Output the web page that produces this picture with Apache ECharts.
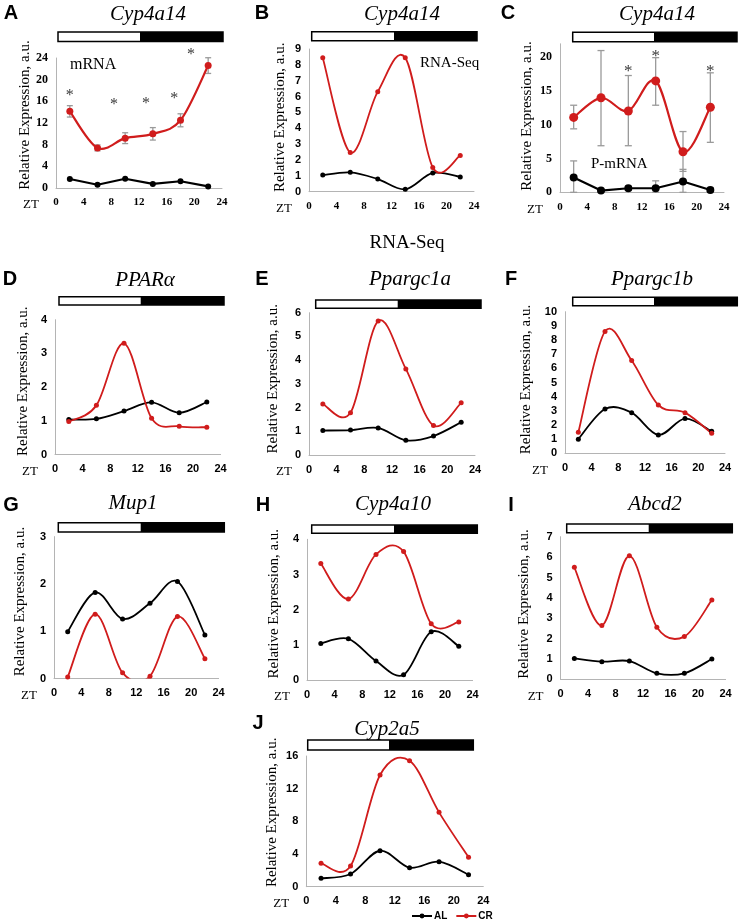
<!DOCTYPE html>
<html><head><meta charset="utf-8">
<script src="https://cdn.jsdelivr.net/npm/echarts@6/dist/echarts.min.js"></script>
<style>html,body{margin:0;padding:0;background:#fff}#c{width:740px;height:921px}</style>
</head><body><div id="c"></div><script>
// ---------- data ----------
const ZT = [2, 6, 10, 14, 18, 22];
// A: Cyp4a14 mRNA
const A_AL = [1.66, 0.6, 1.7, 0.75, 1.25, 0.3];
const A_CR = [14.15, 7.4, 9.2, 10.0, 12.5, 22.6];
const A_CR_ERR = [1.05, 0.55, 1.0, 1.15, 1.2, 1.45];
const A_STAR_X = [2, 8.4, 13, 17.1, 19.5];
const A_STAR_Y = [18, 16.3, 16.4, 17.4, 25.5];
// B: Cyp4a14 RNA-Seq
const B_AL = [1.05, 1.22, 0.8, 0.15, 1.18, 0.93];
const B_CR = [8.45, 2.48, 6.31, 8.45, 1.53, 2.29];
// C: Cyp4a14 P-mRNA
const C_AL = [2.2, 0.25, 0.6, 0.6, 1.6, 0.35];
const C_CR = [11.1, 14.0, 12.05, 16.5, 6.0, 12.6];
const C_CR_LO = [9.4, 6.9, 6.9, 12.9, 3.1, 7.4];
const C_CR_HI = [12.9, 21.0, 17.3, 19.95, 9.0, 17.7];
const C_AL_LO = [0, 0.05, 0.3, 0, 0, 0.1];
const C_AL_HI = [4.65, 0.45, 0.9, 1.7, 3.4, 0.7];
const C_STAR_X = [10, 14, 22];
const C_STAR_Y = [18.7, 20.8, 18.7];
// D-J: RNA-Seq
const D_AL = [1.04, 1.06, 1.29, 1.55, 1.24, 1.56];
const D_CR = [0.98, 1.46, 3.3, 1.08, 0.84, 0.81];
const E_AL = [1.03, 1.05, 1.14, 0.62, 0.8, 1.38];
const E_CR = [2.15, 1.78, 5.65, 3.63, 1.24, 2.2];
const F_AL = [1.0, 3.13, 2.87, 1.3, 2.45, 1.55];
const F_CR = [1.48, 8.6, 6.55, 3.41, 2.87, 1.41];
const G_AL = [0.99, 1.82, 1.26, 1.59, 2.05, 0.92];
const G_CR = [0.03, 1.36, 0.12, 0.05, 1.31, 0.42];
const H_AL = [1.04, 1.17, 0.54, 0.15, 1.37, 0.96];
const H_CR = [3.31, 2.3, 3.57, 3.65, 1.6, 1.65];
const I_AL = [1.03, 0.87, 0.9, 0.3, 0.3, 1.0];
const I_CR = [5.5, 2.65, 6.06, 2.56, 2.1, 3.9];
const J_AL = [1.02, 1.55, 4.4, 2.33, 3.06, 1.47];
const J_CR = [2.86, 2.53, 13.67, 15.43, 9.1, 3.6];
const SERIES_NAMES = ['AL', 'CR'];
const Y_NAME = 'Relative Expression, a.u.';

// ---------- layout ----------
const SERIF = 'Liberation Serif, Times New Roman, serif';
const SANS = 'Liberation Sans, Arial, sans-serif';
const RED = '#d01c1c';
const panels = [
  {L:'A', t:'Cyp4a14', al:A_AL, cr:A_CR, ymax:24, yint:4, g:[56,58,166,130], yf:'serif', xf:'serif', gap:17, ny:8, straightAL:true, bar:[58,32,223,140,9.5], tp:[148,14], lp:[11,13], sym:[6,7], lw:2.2},
  {L:'B', t:'Cyp4a14', al:B_AL, cr:B_CR, ymax:9, yint:1, g:[309,49,165,142.7], yf:'sans', xf:'serif', gap:21, ny:3, bar:[311.7,31.7,477,394,9], tp:[402,14], lp:[262,13], sym:[5,5], lw:1.8},
  {L:'C', t:'Cyp4a14', al:C_AL, cr:C_CR, ymax:22, yint:5, g:[560,43.8,164,148.5], yf:'serif', xf:'serif', gap:25, ny:2, straightAL:true, bar:[572.7,32.3,737,654,9.4], tp:[657,14], lp:[508,13], sym:[8,9], lw:2.2},
  {L:'D', t:'PPARα', al:D_AL, cr:D_CR, ymax:4, yint:1, g:[55,319.7,165.6,134.9], yf:'sans', xf:'sans', gap:24, ny:6, bar:[59,296.7,224,140.7,8.3], tp:[145,280], lp:[10,279], sym:[5,5], lw:1.8},
  {L:'E', t:'Ppargc1a', al:E_AL, cr:E_CR, ymax:6, yint:1, g:[309,312.7,166,142.3], yf:'sans', xf:'sans', gap:28, ny:5, bar:[315.7,300,481,397.7,8.3], tp:[410,279], lp:[262,279], sym:[5,5], lw:1.8},
  {L:'F', t:'Ppargc1b', al:F_AL, cr:F_CR, ymax:10, yint:1, g:[565,311.7,160,141.6], yf:'sans', xf:'sans', gap:31, ny:3, bar:[572.7,297.3,737.3,654,8.4], tp:[652,279], lp:[511,279], sym:[5,5], lw:1.8},
  {L:'G', t:'Mup1', al:G_AL, cr:G_CR, ymax:3, yint:1, g:[54,536.6,164.6,141.9], yf:'sans', xf:'sans', gap:26, ny:6, bar:[58.3,522.7,224.3,140.7,9.3], tp:[133,503], lp:[11,505], sym:[5,5], lw:1.8},
  {L:'H', t:'Cyp4a10', al:H_AL, cr:H_CR, ymax:4, yint:1, g:[307,539.3,165.6,140.7], yf:'sans', xf:'sans', gap:25, ny:6, bar:[311.7,525,477.3,394,8.3], tp:[393,504], lp:[263,505], sym:[5,5], lw:1.8},
  {L:'I', t:'Abcd2', al:I_AL, cr:I_CR, ymax:7, yint:1, g:[560.6,536.7,165,142.7], yf:'sans', xf:'sans', gap:29, ny:4, bar:[566.7,524,732.3,648.7,8.7], tp:[655,504], lp:[511,505], sym:[5,5], lw:1.8},
  {L:'J', t:'Cyp2a5', al:J_AL, cr:J_CR, ymax:16, yint:4, g:[306.3,756,177,130.7], yf:'sans', xf:'sans', gap:27, ny:9, bar:[307.7,740,473.3,389,10], tp:[387,729], lp:[258,723], sym:[5,5], lw:1.8}
];

const grid = [], xAxis = [], yAxis = [], series = [], graphic = [];
const axisColor = '#b4b4b4';
function fontOf(k){ return k === 'serif' ? SERIF : SANS; }

// Excel-style smoothed curve (Catmull-Rom Bezier) drawn through the axes' scales
function curveSeries(idx, arr, color, width, z, straight) {
  const pts = ZT.map((t, k) => [t, arr[k]]);
  const k6 = straight ? 0 : 1 / 6;
  return {
    type: 'custom', xAxisIndex: idx, yAxisIndex: idx, silent: true, clip: true, z: z,
    data: pts, encode: {x: 0, y: 1},
    renderItem: function (params, api) {
      const i = params.dataIndex;
      if (i >= pts.length - 1) return {type: 'group', children: []};
      const P = k => api.coord(pts[Math.max(0, Math.min(pts.length - 1, k))]);
      const p0 = P(i - 1), p1 = P(i), p2 = P(i + 1), p3 = P(i + 2);
      const c1 = [p1[0] + (p2[0] - p0[0]) * k6, p1[1] + (p2[1] - p0[1]) * k6];
      const c2 = [p2[0] - (p3[0] - p1[0]) * k6, p2[1] - (p3[1] - p1[1]) * k6];
      return {type: 'bezierCurve',
        shape: {x1: p1[0], y1: p1[1], x2: p2[0], y2: p2[1], cpx1: c1[0], cpy1: c1[1], cpx2: c2[0], cpy2: c2[1]},
        style: {stroke: color, lineWidth: width, fill: null, lineCap: 'round'}};
    }
  };
}

panels.forEach((p, i) => {
  const [gl, gt, gw, gh] = p.g;
  grid.push({left: gl, top: gt, width: gw, height: gh});
  xAxis.push({
    gridIndex: i, type: 'value', min: 0, max: 24, interval: 4,
    axisLine: {show: true, lineStyle: {color: axisColor, width: 1}},
    axisTick: {show: false}, splitLine: {show: false},
    axisLabel: {fontFamily: fontOf(p.xf), fontWeight: 'bold', fontSize: 11, color: '#000', margin: 9}
  });
  const yint = p.yint;
  yAxis.push({
    gridIndex: i, type: 'value', min: 0, max: p.ymax, interval: yint,
    axisLine: {show: true, lineStyle: {color: axisColor, width: 1}},
    axisTick: {show: false}, splitLine: {show: false},
    axisLabel: {fontFamily: fontOf(p.yf), fontWeight: 'bold', fontSize: p.yf === 'serif' ? 12 : 11, color: '#000', margin: 8,
      formatter: v => (Math.abs(v / yint - Math.round(v / yint)) < 1e-6 ? String(v) : '')},
    name: Y_NAME, nameLocation: 'middle', nameGap: p.gap,
    nameTextStyle: {fontFamily: SERIF, fontSize: 15, color: '#000', padding: [0, 0, 0, 2 * p.ny]}
  });
  const mk = (arr) => ZT.map((t, k) => [t, arr[k]]);
  series.push(curveSeries(i, p.al, '#000', p.lw, 3, !!p.straightAL));
  series.push(curveSeries(i, p.cr, RED, p.lw, 4, false));
  series.push({
    type: 'line', name: SERIES_NAMES[0], xAxisIndex: i, yAxisIndex: i, data: mk(p.al),
    symbol: 'circle', symbolSize: p.sym[0], clip: true,
    itemStyle: {color: '#000'}, lineStyle: {color: '#000', width: p.lw, opacity: 0}, z: 5
  });
  series.push({
    type: 'line', name: SERIES_NAMES[1], xAxisIndex: i, yAxisIndex: i, data: mk(p.cr),
    symbol: 'circle', symbolSize: p.sym[1], clip: true,
    itemStyle: {color: RED}, lineStyle: {color: RED, width: p.lw, opacity: 0}, z: 6
  });
  // light/dark bar
  const [bx0, by, bx1, bs, bh] = p.bar;
  graphic.push({type: 'rect', shape: {x: bx0, y: by, width: bx1 - bx0, height: bh}, style: {fill: '#fff', stroke: '#000', lineWidth: 1.5}, z: 10});
  graphic.push({type: 'rect', shape: {x: bs, y: by, width: bx1 - bs, height: bh}, style: {fill: '#000'}, z: 11});
  // title and letter
  graphic.push({type: 'text', x: p.tp[0], y: p.tp[1], style: {text: p.t, font: 'italic 21px ' + SERIF, fill: '#000', textAlign: 'center', textVerticalAlign: 'middle'}, z: 10});
  graphic.push({type: 'text', x: p.lp[0], y: p.lp[1], style: {text: p.L, font: 'bold 20px ' + SANS, fill: '#000', textAlign: 'center', textVerticalAlign: 'middle'}, z: 10});
  // ZT
  graphic.push({type: 'text', x: gl - 25, y: gt + gh + 17, style: {text: 'ZT', font: '13px ' + SERIF, fill: '#000', textAlign: 'center', textVerticalAlign: 'middle'}, z: 10});
});

// error bars
function errSeries(idx, lo, hi, cap, color) {
  return {
    type: 'custom', xAxisIndex: idx, yAxisIndex: idx, silent: true, z: 2,
    data: ZT.map((t, k) => [t, lo[k], hi[k]]),
    encode: {x: 0, y: [1, 2]},
    renderItem: function (params, api) {
      const x = api.value(0);
      const a = api.coord([x, api.value(1)]);
      const b = api.coord([x, api.value(2)]);
      const st = {stroke: color, lineWidth: 1.3};
      return {type: 'group', children: [
        {type: 'line', shape: {x1: a[0], y1: a[1], x2: b[0], y2: b[1]}, style: st},
        {type: 'line', shape: {x1: a[0] - cap, y1: a[1], x2: a[0] + cap, y2: a[1]}, style: st},
        {type: 'line', shape: {x1: b[0] - cap, y1: b[1], x2: b[0] + cap, y2: b[1]}, style: st}
      ]};
    }
  };
}
series.push(errSeries(0, A_CR.map((v, k) => v - A_CR_ERR[k]), A_CR.map((v, k) => v + A_CR_ERR[k]), 3, '#9a9a9a'));
series.push(errSeries(2, C_CR_LO, C_CR_HI, 3.5, '#9a9a9a'));
series.push(errSeries(2, C_AL_LO, C_AL_HI, 3.5, '#9a9a9a'));

function starSeries(idx, xs, ys, size) {
  return {
    type: 'scatter', xAxisIndex: idx, yAxisIndex: idx, silent: true, clip: false, z: 5,
    data: xs.map((x, k) => [x, ys[k]]), symbolSize: 1, itemStyle: {color: 'rgba(0,0,0,0)'},
    label: {show: true, formatter: '*', position: 'inside', fontFamily: SERIF, fontSize: size, color: '#000', offset: [0, size * 0.3]}
  };
}
series.push(starSeries(0, A_STAR_X, A_STAR_Y, 16));
series.push(starSeries(2, C_STAR_X, C_STAR_Y, 17));

// annotations
graphic.push({type: 'text', x: 70, y: 65, style: {text: 'mRNA', font: '16px ' + SERIF, fill: '#000', textVerticalAlign: 'middle'}, z: 10});
graphic.push({type: 'text', x: 420, y: 63, style: {text: 'RNA-Seq', font: '15px ' + SERIF, fill: '#000', textVerticalAlign: 'middle'}, z: 10});
graphic.push({type: 'text', x: 591, y: 164, style: {text: 'P-mRNA', font: '15px ' + SERIF, fill: '#000', textVerticalAlign: 'middle'}, z: 10});
graphic.push({type: 'text', x: 407, y: 243, style: {text: 'RNA-Seq', font: '19px ' + SERIF, fill: '#000', textAlign: 'center', textVerticalAlign: 'middle'}, z: 10});

const chart = echarts.init(document.getElementById('c'));
chart.setOption({
  animation: false,
  backgroundColor: '#fff',
  grid, xAxis, yAxis, series, graphic,
  legend: {
    data: [
      {name: 'AL', lineStyle: {color: '#000', width: 2, opacity: 1}},
      {name: 'CR', lineStyle: {color: RED, width: 2, opacity: 1}}
    ],
    left: 406, top: 906, itemWidth: 20, itemHeight: 6, itemGap: 8,
    lineStyle: {opacity: 1},
    textStyle: {fontFamily: SANS, fontWeight: 'bold', fontSize: 10, color: '#000', padding: [0, 0, 0, -3]}
  }
});
</script></body></html>
